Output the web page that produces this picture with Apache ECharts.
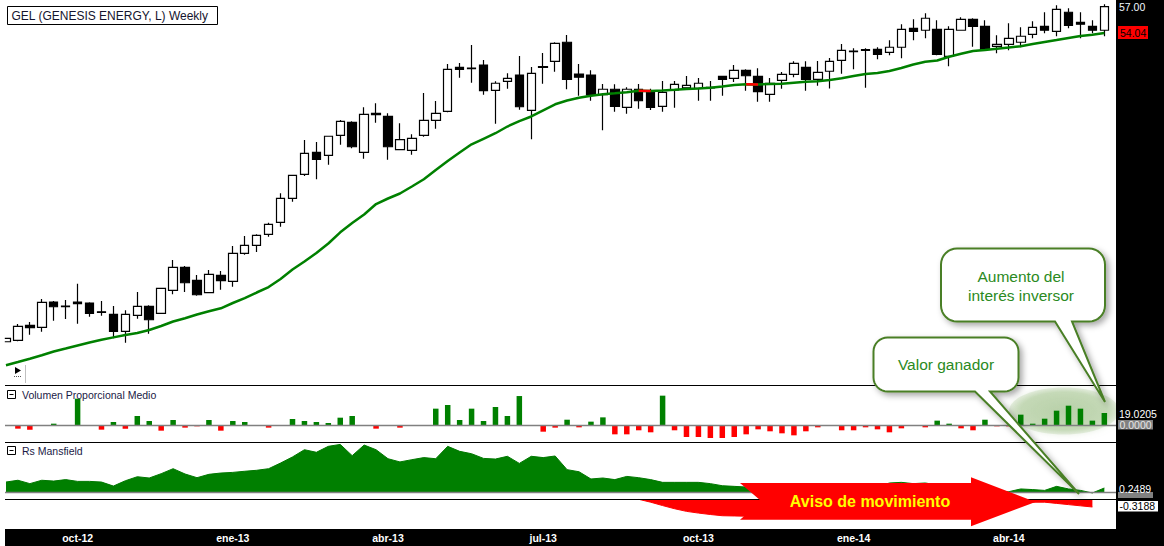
<!DOCTYPE html>
<html>
<head>
<meta charset="utf-8">
<script src="https://cdn.jsdelivr.net/npm/echarts@6/dist/echarts.min.js"></script>
<style>
html,body{margin:0;padding:0;background:#ffffff;}
#c{width:1164px;height:546px;}
</style>
</head>
<body>
<div id="c"></div>
<script>
// ---------- data (weekly, GEL) ----------
const firstWeek = '2012-08-20';
const monthAbbr = ['ene','feb','mar','abr','may','jun','jul','ago','sep','oct','nov','dic'];

const open = [
19.56,19.72,21.39,21.17,24.00,23.55,24.00,23.89,22.91,22.62,
20.72,22.51,23.52,22.73,25.30,27.87,26.42,25.04,26.98,26.31,
29.44,30.33,31.56,32.90,35.58,38.26,40.72,40.38,42.62,44.07,
40.72,45.07,44.74,41.01,40.94,42.62,44.29,45.30,50.21,50.13,
50.47,47.64,48.65,49.35,45.41,50.28,50.88,53.01,49.46,49.35,
47.15,47.76,45.74,47.76,47.60,45.86,47.68,47.93,47.87,47.97,
49.21,48.98,49.88,49.21,47.20,48.76,49.43,50.21,48.87,49.77,
50.99,52.03,52.18,52.22,51.89,52.45,54.57,54.35,54.46,51.44,
54.35,55.57,54.79,52.56,52.78,53.01,53.90,54.79,54.23,56.36,
55.24,54.79,54.35];
const close = [
19.94,21.28,21.13,23.96,23.47,23.48,23.81,22.73,22.85,20.72,
22.62,23.52,22.02,25.53,27.87,26.15,24.81,27.09,26.38,29.44,
30.33,31.45,32.68,35.58,38.15,40.61,39.94,42.51,44.18,41.34,
44.96,44.92,41.34,42.13,42.28,44.29,45.07,49.99,49.99,50.07,
47.60,48.43,48.98,45.81,49.54,50.21,52.89,48.87,49.10,47.12,
47.76,45.86,47.76,46.48,45.74,47.42,48.31,48.20,48.43,47.90,
48.87,49.88,49.27,47.49,48.43,49.43,50.66,48.87,49.65,50.88,
52.11,51.97,52.11,51.66,52.45,54.46,54.23,55.69,51.66,54.46,
55.57,54.79,52.22,52.78,53.45,53.68,54.68,54.35,56.69,54.90,
55.02,54.35,57.00];
const low = [
19.56,19.61,20.34,20.68,21.91,22.10,21.57,22.36,22.47,19.94,
19.45,22.13,20.46,22.71,24.86,25.11,24.70,24.97,25.37,25.71,
29.28,29.58,31.29,32.41,35.20,38.07,37.70,39.33,41.57,41.17,
40.00,44.02,39.89,41.01,40.45,42.46,43.35,45.19,49.05,48.49,
47.15,43.91,47.82,45.48,42.17,48.38,49.72,47.76,47.04,46.48,
43.18,45.25,45.03,45.59,45.44,45.25,45.70,47.82,46.48,46.48,
47.04,48.57,47.60,46.37,46.37,47.82,49.10,47.60,48.16,47.84,
49.50,49.99,47.93,51.11,51.55,51.22,53.23,53.45,51.55,50.32,
54.35,52.51,52.22,51.78,52.11,52.45,53.45,54.01,53.68,54.57,
53.45,54.01,53.68];
const high = [
19.94,21.54,21.76,24.33,24.11,24.22,26.04,23.96,24.11,23.55,
23.07,25.11,23.63,25.56,28.69,28.02,27.01,27.57,27.46,30.25,
31.37,31.56,32.85,36.14,38.15,42.09,41.87,42.51,44.33,44.18,
45.74,46.19,45.07,43.96,42.73,47.34,46.45,50.58,50.69,52.70,
51.03,48.65,49.54,51.47,50.25,51.81,53.01,53.82,50.58,49.88,
48.35,48.31,47.98,48.35,47.82,48.68,48.68,49.24,49.02,48.68,
49.24,50.47,49.99,50.10,49.02,49.69,50.88,50.88,50.92,51.25,
52.82,52.34,52.34,52.45,53.23,55.02,55.57,56.24,55.46,54.79,
55.80,55.69,55.46,53.79,55.13,54.68,55.35,56.36,57.14,56.80,
56.36,55.46,57.25];
const sma = [
16.93,17.29,17.66,18.05,18.47,18.80,19.14,19.47,19.79,20.05,
20.31,20.53,20.87,21.32,21.82,22.19,22.60,22.96,23.30,23.89,
24.44,25.06,25.67,26.57,27.63,28.52,29.47,30.53,31.78,32.82,
33.77,34.94,35.56,36.12,36.90,37.71,38.74,39.75,40.70,41.61,
42.23,42.85,43.60,44.21,44.72,45.41,46.08,46.50,46.81,47.03,
47.21,47.31,47.42,47.59,47.58,47.63,47.70,47.79,47.84,47.92,
48.07,48.24,48.31,48.30,48.35,48.38,48.49,48.59,48.66,48.79,
48.98,49.24,49.46,49.58,49.80,50.13,50.53,50.83,50.97,51.39,
51.72,52.03,52.15,52.29,52.42,52.56,52.82,53.04,53.26,53.49,
53.71,53.84,54.04];
const smaFallingWeeks = [53,54,62,63];
const volume = [
null,-5.8,-7.4,null,2.1,null,41.7,null,-7.4,4.8,
-5.8,14.3,6.3,-9.0,7.9,-4.2,-2.1,7.9,-9.0,6.3,
4.8,null,-4.2,null,9.5,6.3,4.8,3.2,11.6,14.3,
null,-5.8,null,-4.2,null,null,25.9,31.7,7.9,25.9,
6.3,28.5,14.3,45.9,null,-10.6,-4.2,8.4,-3.7,5.3,
12.1,-14.8,-14.8,-8.4,-11.6,46.5,-8.4,-19.0,-19.0,-20.6,
-20.6,-19.0,-14.8,-6.9,-10.0,-13.2,-16.4,-10.0,-3.7,null,
-8.4,-8.4,-3.7,-6.9,-11.6,-5.3,null,-3.7,6.9,2.1,
-5.3,-8.4,8.4,-2.1,-2.1,16.4,2.1,10.0,22.7,30.6,
25.9,6.9,19.0205];
const rsMansfield = [
0.62,0.73,0.52,0.73,0.68,0.77,0.66,0.66,0.62,0.37,
0.70,0.95,0.87,1.14,1.45,1.12,0.89,1.10,1.18,1.22,
1.29,1.35,1.45,1.80,2.18,2.63,2.47,2.84,2.96,2.26,
2.92,2.63,2.07,1.87,2.01,2.14,2.07,2.84,2.53,2.38,
2.09,2.05,2.22,1.78,2.22,2.14,2.24,1.39,1.26,0.81,
0.87,0.77,0.97,0.89,0.77,0.60,0.60,0.60,0.60,0.52,
0.39,0.35,0.31,0.27,0.23,0.19,0.19,0.19,0.23,0.23,
0.23,0.23,0.27,0.31,0.56,0.60,0.52,0.56,0.44,0.27,
0.19,0.15,0.10,0.06,0.02,0.19,0.15,0.10,0.35,0.19,
0.10,-0.06,0.2489];
const rsWarning = [
null,null,null,null,null,null,null,null,null,null,
null,null,null,null,null,null,null,null,null,null,
null,null,null,null,null,null,null,null,null,null,
null,null,null,null,null,null,null,null,null,null,
null,null,null,null,null,null,null,null,null,null,
null,null,null,0,-0.12,-0.26,-0.39,-0.50,-0.57,-0.63,
-0.68,-0.69,-0.70,-0.70,-0.70,-0.68,-0.66,-0.64,-0.62,-0.60,
-0.58,-0.55,-0.52,-0.50,-0.47,-0.44,-0.41,-0.38,-0.35,-0.32,
-0.30,-0.26,-0.22,-0.18,-0.15,-0.13,-0.12,-0.12,-0.17,-0.22,
-0.27,-0.3188,null];

// ---------- derived ----------
const categories = [];
(function(){
  const p = firstWeek.split('-').map(Number);
  const t0 = Date.UTC(p[0], p[1]-1, p[2]);
  for (let i = 0; i < open.length; i++) {
    categories.push(new Date(t0 + i*7*864e5).toISOString().slice(0,10));
  }
})();
function quarterLabel(v){
  const p = v.split('-').map(Number);
  const t = Date.UTC(p[0], p[1]-1, p[2]);
  for (let k = 0; k < 7; k++) {
    const d = new Date(t + k*864e5);
    if (d.getUTCDate() === 1 && d.getUTCMonth() % 3 === 0)
      return monthAbbr[d.getUTCMonth()] + '-' + String(d.getUTCFullYear()).slice(2);
  }
  return '';
}
const ohlc = open.map((o,i) => [o, close[i], low[i], high[i]]);
const smaFalling = sma.map((v,i) => smaFallingWeeks.indexOf(i) >= 0 ? v : null);

// ---------- annotation helpers ----------
function calloutPts(x0,y0,x1,y1,r,b1,b2,tx,ty){
  const pts = [];
  const arc = (cx,cy,a0,a1) => {
    for (let k = 0; k <= 8; k++) {
      const a = (a0 + (a1-a0)*k/8) * Math.PI/180;
      pts.push([cx + r*Math.cos(a), cy + r*Math.sin(a)]);
    }
  };
  arc(x1-r, y0+r, -90, 0);
  arc(x1-r, y1-r, 0, 90);
  pts.push([b2,y1],[tx,ty],[b1,y1]);
  arc(x0+r, y1-r, 90, 180);
  arc(x0+r, y0+r, 180, 270);
  return pts;
}
const FONT = '"Liberation Sans", Arial, sans-serif';
function txt(x,y,s,size,color,opts){
  opts = opts || {};
  return {type:'text', x:x, y:y, z: opts.z || 70, silent:true,
    style:{text:s, fill:color, font:(opts.weight||'normal')+' '+size+'px '+FONT,
      textAlign:opts.align||'left', align:opts.align||'left',
      textVerticalAlign:'middle', verticalAlign:'middle'}};
}
function hline(y,x1,x2,color,w){
  return {type:'line', z:50, silent:true, shape:{x1:x1,y1:y,x2:x2,y2:y}, style:{stroke:color, lineWidth:w||1}};
}
function minusBox(y){
  return [
    {type:'rect', z:70, silent:true, shape:{x:7.5,y:y-4,width:8,height:8}, style:{fill:'#fff', stroke:'#000', lineWidth:1}},
    {type:'line', z:71, silent:true, shape:{x1:9.5,y1:y,x2:13.5,y2:y}, style:{stroke:'#000', lineWidth:1}}
  ];
}

const calloutStyle = {fill:'#ffffff', stroke:'#4a7f26', lineWidth:2,
  shadowBlur:6, shadowOffsetX:3, shadowOffsetY:3, shadowColor:'rgba(0,0,0,0.35)'};

const graphics = [
  // cover left margin (plot starts at x=5)
  {type:'rect', z:45, silent:true, shape:{x:0,y:0,width:4.8,height:529}, style:{fill:'#fff'}},
  // highlight ellipse (behind bars)
  {type:'ellipse', z:1, silent:true, shape:{cx:1064, cy:411, rx:55, ry:23.5},
    style:{fill:{type:'radial', x:0.5, y:0.5, r:0.5, colorStops:[
      {offset:0, color:'rgba(160,192,140,0.62)'},
      {offset:0.8, color:'rgba(170,200,150,0.55)'},
      {offset:1, color:'rgba(190,212,175,0.35)'}]},
      shadowBlur:6, shadowColor:'rgba(170,200,150,0.6)'}},
  // panel separators and zero lines
  hline(385.5, 5, 1116, '#000', 1),
  hline(442.5, 5, 1116, '#000', 1),
  hline(499.5, 5, 1116, '#000', 1),
  hline(425.5, 5, 1116, '#808080', 1.3),
  hline(492.5, 5, 1116, '#808080', 1.3),
  // black frames
  {type:'rect', z:60, silent:true, shape:{x:1116,y:0,width:48,height:546}, style:{fill:'#000'}},
  {type:'rect', z:60, silent:true, shape:{x:5,y:529,width:1111,height:17}, style:{fill:'#000'}},
  // right scale labels
  txt(1119, 7, '57.00', 10.5, '#f0f8ff'),
  {type:'rect', z:69, silent:true, shape:{x:1118,y:26,width:30,height:13}, style:{fill:'#ff0000'}},
  txt(1120, 32.8, '54.04', 10.5, '#000'),
  txt(1119, 413.7, '19.0205', 10.5, '#ffffff'),
  {type:'rect', z:69, silent:true, shape:{x:1118,y:420,width:35,height:9.5}, style:{fill:'#808080'}},
  txt(1119.5, 425, '0.0000', 10.5, '#e6e6e6'),
  {type:'rect', z:69, silent:true, shape:{x:1118,y:492,width:35,height:6}, style:{fill:'#808080'}},
  txt(1119, 488.5, '0.2489', 10.5, '#ffffff'),
  {type:'rect', z:69, silent:true, shape:{x:1118,y:501,width:40,height:10.5}, style:{fill:'#ffffff'}},
  txt(1119.5, 506.4, '-0.3188', 10.5, '#000'),
  // title
  {type:'rect', z:69, silent:true, shape:{x:7.5,y:6.5,width:210,height:18}, style:{fill:'#fff', stroke:'#000', lineWidth:1}},
  txt(11.5, 15.8, 'GEL (GENESIS ENERGY, L) Weekly', 12, '#14142e'),
  // panel titles
  ...minusBox(394.5),
  txt(22, 394.5, 'Volumen Proporcional Medio', 10.5, '#1a1a46'),
  ...minusBox(450.5),
  txt(22, 450.5, 'Rs Mansfield', 10.5, '#1a1a46'),
  // small play icon
  {type:'line', z:70, silent:true, shape:{x1:25.5,y1:365,x2:25.5,y2:383}, style:{stroke:'#c0c0c0', lineWidth:1}},
  {type:'polygon', z:70, silent:true, shape:{points:[[15,367],[21,370.5],[15,374]]}, style:{fill:'#000'}},
  {type:'line', z:70, silent:true, shape:{x1:14,y1:376.5,x2:21,y2:376.5}, style:{stroke:'#555', lineWidth:1, lineDash:[1,1]}},
  // red arrow
  {type:'polygon', z:80, silent:true, shape:{points:[[740,483],[971,483],[971,477.3],[1035.5,502],[971,526.3],[971,519.7],[740,519.7],[761.4,501.3]]},
    style:{fill:'#ff0000'}},
  txt(870, 501.5, 'Aviso de movimiento', 16, '#ffff00', {weight:'bold', align:'center', z:81}),
  // callouts
  {type:'polygon', z:90, silent:true, shape:{points:calloutPts(941,248.5,1105,321.5,16,1055,1072,1105,402)}, style:calloutStyle},
  txt(1021, 276.5, 'Aumento del', 15.5, '#2a8a22', {align:'center', z:91}),
  txt(1021, 295, 'interés inversor', 15.5, '#2a8a22', {align:'center', z:91}),
  {type:'polygon', z:90, silent:true, shape:{points:calloutPts(873.5,337.5,1018.5,391.5,14,975,990,1079,494)}, style:calloutStyle},
  txt(946, 364, 'Valor ganador', 15.5, '#2a8a22', {align:'center', z:91})
];

const chart = echarts.init(document.getElementById('c'), null, {renderer:'svg'});
const gridBox = {left:-5.7, width:1116};
const option = {
  animation:false,
  backgroundColor:'transparent',
  grid:[
    Object.assign({top:0, height:385}, gridBox),
    Object.assign({top:385, height:57}, gridBox),
    Object.assign({top:442, height:57.3}, gridBox),
    Object.assign({top:499.3, height:29.7}, gridBox)
  ],
  xAxis:[0,1,2,3].map(g => ({
    type:'category', gridIndex:g, data:categories, boundaryGap:true,
    show: g === 3, z:100,
    axisLine:{show:false}, axisTick:{show:false}, splitLine:{show:false},
    axisLabel: g === 3 ? {
      show:true, margin:3.5, color:'#ffffff', fontSize:10.5, fontWeight:'bold', fontFamily:FONT,
      interval:(idx, val) => quarterLabel(val) !== '',
      formatter:(val) => quarterLabel(val)
    } : {show:false}
  })),
  yAxis:[
    {type:'value', gridIndex:0, min:14.73, max:57.73, show:false},
    {type:'value', gridIndex:1, min:-26.95, max:63.4, show:false},
    {type:'value', gridIndex:2, min:-0.454, max:3.11, show:false},
    {type:'value', gridIndex:3, min:-1.23, max:0, show:false}
  ],
  series:[
    {type:'candlestick', name:'GEL', xAxisIndex:0, yAxisIndex:0, data:ohlc, barWidth:9, z:3,
      itemStyle:{color:'#ffffff', color0:'#000000', borderColor:'#000000', borderColor0:'#000000', borderColorDoji:'#000000', borderWidth:1.2}},
    {type:'line', name:'SMA', xAxisIndex:0, yAxisIndex:0, data:sma, symbol:'none', z:4,
      lineStyle:{color:'#008000', width:2.5}},
    {type:'line', name:'SMA falling', xAxisIndex:0, yAxisIndex:0, data:smaFalling, symbol:'none', z:5, connectNulls:false,
      lineStyle:{color:'#ff0000', width:2.5}},
    {type:'bar', name:'Volumen', xAxisIndex:1, yAxisIndex:1, data:volume, barWidth:5.5, z:3,
      itemStyle:{color:(p) => p.value >= 0 ? '#008000' : '#ff0000'}},
    {type:'line', name:'Rs Mansfield', xAxisIndex:2, yAxisIndex:2, data:rsMansfield, symbol:'none', z:3,
      lineStyle:{color:'#007800', width:1}, areaStyle:{color:'#007f00', opacity:1}},
    {type:'line', name:'Aviso', xAxisIndex:3, yAxisIndex:3, data:rsWarning, symbol:'none', z:3, connectNulls:false,
      lineStyle:{color:'#ff0000', width:1}, areaStyle:{color:'#ff0000', opacity:1}}
  ],
  graphic:{elements:graphics}
};
chart.setOption(option);
</script>
</body>
</html>
